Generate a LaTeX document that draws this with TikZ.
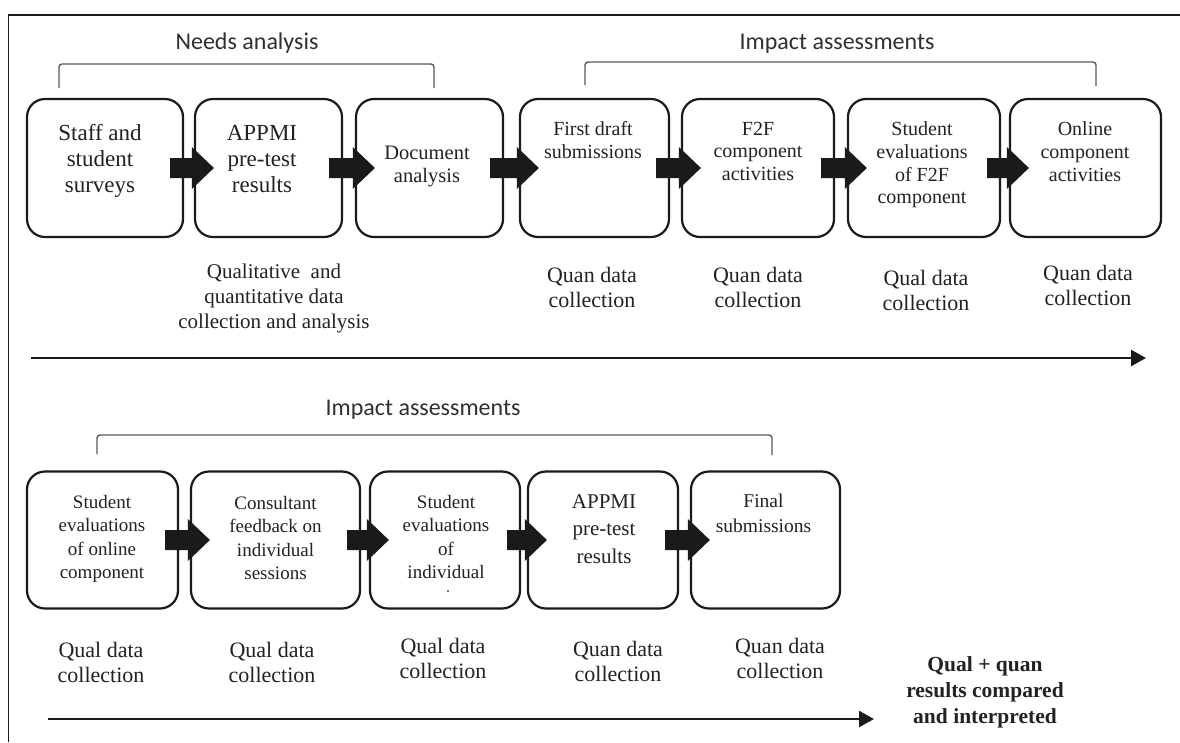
\documentclass[tikz,border=0pt]{standalone}
\usepackage{fontspec}
\setmainfont{Liberation Serif}
\newfontfamily\hdrfont{Carlito}
\usetikzlibrary{arrows.meta,calc}

\definecolor{boxc}{HTML}{1A1A1A}
\definecolor{txtc}{HTML}{222222}
\definecolor{brkc}{HTML}{5A5A5A}
\definecolor{hdrc}{HTML}{303030}

\newcommand\fsz[2]{\fontsize{#1pt}{#2pt}\selectfont}

% thick block arrow between two stage boxes
\newcommand\flowarrow[2]{%
  \path ([xshift=-14pt]#1.east) coordinate (fas) ([xshift=20pt]#2.west) coordinate (fat);
  \fill[boxc] ($(fas)+(0,-10)$) -- ($(fat)+(-22,-10)$) -- ($(fat)+(-22,-21)$) -- (fat)
     -- ($(fat)+(-22,21)$) -- ($(fat)+(-22,10)$) -- ($(fas)+(0,10)$) -- cycle;}

\tikzset{
  box/.style={draw=boxc, line width=2.2pt, rounded corners=18pt, inner sep=0pt, fill=white},
  boxtxt/.style={align=center, inner sep=0pt, anchor=north, text=txtc},
  lbl/.style={align=center, inner sep=0pt, anchor=north, text=txtc, font=\fsz{22}{25}},
  hdr/.style={inner sep=0pt, anchor=base, text=hdrc, font=\hdrfont\fsz{24}{28}},
  bracket/.style={draw=brkc, line width=1.4pt, rounded corners=3pt},
  timeline/.style={draw=boxc, line width=2.4pt, -{Triangle[length=15pt,width=16pt]}},
}

\begin{document}
\begin{tikzpicture}[x=1pt,y=-1pt]
\useasboundingbox (0,0) rectangle (1180,742);
\fill[white] (0,0) rectangle (1180,742);

% frame
\draw[boxc, line width=1.4pt] (8.5,742) -- (8.5,15) -- (1180,15);

% ---------- first row ----------
\node[hdr] (hneeds) at (247,49) {Needs analysis};
\node[hdr] (himp1) at (837,49) {Impact assessments};
\draw[bracket] (59,88) -- (59,64) -- (434,64) -- (434,88);
\draw[bracket] (585,85) -- (585,62) -- (1096,62) -- (1096,86);

\node[box, minimum width=156pt, minimum height=138pt] (r1a) at (105,168) {};
\node[box, minimum width=147pt, minimum height=138pt] (r1b) at (268.5,168) {};
\node[box, minimum width=147pt, minimum height=138pt] (r1c) at (429.5,168) {};
\node[box, minimum width=149pt, minimum height=138pt] (r1d) at (594.5,168) {};
\node[box, minimum width=152pt, minimum height=138pt] (r1e) at (758,168) {};
\node[box, minimum width=152pt, minimum height=138pt] (r1f) at (924,168) {};
\node[box, minimum width=151pt, minimum height=138pt] (r1g) at (1085.5,168) {};

\node[boxtxt, font=\fsz{23}{26}] (t1a) at (100,124) {Staff and\\student\\surveys};
\node[boxtxt, font=\fsz{23}{26}] (t1b) at (262,124.8) {APPMI\\pre-test\\results};
\node[boxtxt, font=\fsz{20.5}{23}] (t1c) at (427,146) {Document\\analysis};
\node[boxtxt, font=\fsz{20}{22.7}] (t1d) at (593,121.5) {First draft\\submissions};
\node[boxtxt, font=\fsz{20}{22.7}] (t1e) at (758,121.8) {F2F\\component\\activities};
\node[boxtxt, font=\fsz{20}{22.7}] (t1f) at (922,121.8) {Student\\evaluations\\of F2F\\component};
\node[boxtxt, font=\fsz{20}{22.7}] (t1g) at (1085,121.8) {Online\\component\\activities};

\flowarrow{r1a}{r1b}
\flowarrow{r1b}{r1c}
\flowarrow{r1c}{r1d}
\flowarrow{r1d}{r1e}
\flowarrow{r1e}{r1f}
\flowarrow{r1f}{r1g}

\node[lbl, font=\fsz{21}{25}] (l1abc) at (274,263.5) {Qualitative~ and\\quantitative data\\collection and analysis};
\node[lbl] (l1d) at (592,267) {Quan data\\collection};
\node[lbl] (l1e) at (758,267) {Quan data\\collection};
\node[lbl] (l1f) at (926,270) {Qual data\\collection};
\node[lbl] (l1g) at (1088,265) {Quan data\\collection};

\coordinate (tl1s) at (31,358);
\coordinate (tl1e) at (1146,358);
\draw[timeline] (tl1s) -- (tl1e);

% ---------- second row ----------
\node[hdr] (himp2) at (423,415) {Impact assessments};
\draw[bracket] (97,454) -- (97,435) -- (772,435) -- (772,455);

\node[box, minimum width=151pt, minimum height=137pt] (r2a) at (102.5,540) {};
\node[box, minimum width=169pt, minimum height=137pt] (r2b) at (275.5,540) {};
\node[box, minimum width=150pt, minimum height=137pt] (r2c) at (445,540) {};
\node[box, minimum width=150pt, minimum height=137pt] (r2d) at (603,540) {};
\node[box, minimum width=149pt, minimum height=137pt] (r2e) at (765.5,540) {};

\node[boxtxt, font=\fsz{19}{23.5}] (t2a) at (102,495) {Student\\evaluations\\of online\\component};
\node[boxtxt, font=\fsz{19}{23.5}] (t2b) at (275.5,496) {Consultant\\feedback on\\individual\\sessions};
\node[boxtxt, font=\fsz{19}{23.5}] (t2c) at (446,495) {Student\\evaluations\\of\\individual};
\fill[txtc] (448,591) circle (1pt);
\node[boxtxt, font=\fsz{21}{27.5}] (t2d) at (604,494.1) {APPMI\\pre-test\\results};
\node[boxtxt, font=\fsz{19.5}{25}] (t2e) at (763.5,493.5) {Final\\submissions};

\flowarrow{r2a}{r2b}
\flowarrow{r2b}{r2c}
\flowarrow{r2c}{r2d}
\flowarrow{r2d}{r2e}

\node[lbl] (l2a) at (101,642) {Qual data\\collection};
\node[lbl] (l2b) at (272,642) {Qual data\\collection};
\node[lbl] (l2c) at (443,638) {Qual data\\collection};
\node[lbl] (l2d) at (618,641) {Quan data\\collection};
\node[lbl] (l2e) at (780,638) {Quan data\\collection};

\node[lbl, font=\bfseries\fsz{21.5}{26}] (res) at (985,656.5) {Qual + quan\\results compared\\and interpreted};

\coordinate (tl2s) at (48,719);
\coordinate (tl2e) at (874,719);
\draw[timeline] (tl2s) -- (tl2e);
\end{tikzpicture}
\end{document}
